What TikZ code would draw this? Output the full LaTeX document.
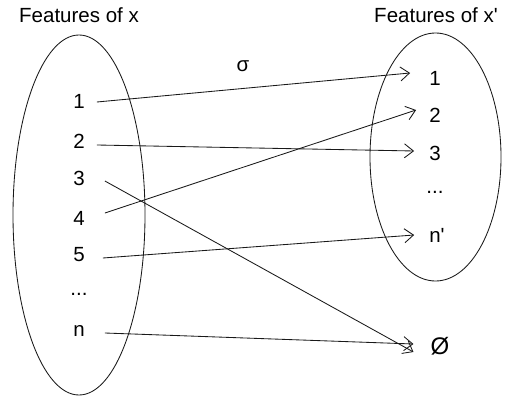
\documentclass[tikz,border=0pt]{standalone}
\usepackage{fontspec}
\setmainfont{Liberation Sans}[Ligatures=TeXOff]
\usetikzlibrary{arrows.meta}
\tikzset{
  lbl/.style={inner sep=0pt, font=\fontsize{20.5}{24}\selectfont, text=black},
  ttl/.style={inner sep=0pt, font=\fontsize{20.5}{24}\selectfont, text=black},
  conn/.style={draw=black!90, line width=0.85pt, -{Straight Barb[length=9pt,width=14pt]}},
  oval/.style={draw=black!90, line width=0.85pt}
}
\begin{document}
\begin{tikzpicture}[x=1pt,y=-1pt]
\useasboundingbox (0,0) rectangle (516,401);
% ellipses
\draw[oval] (79,215) ellipse [x radius=66pt, y radius=180pt];
\draw[oval] (435.5,157) ellipse [x radius=65.5pt, y radius=124pt];
% titles
\node[ttl] (tx) at (79,15) {Features of x};
\node[ttl] (txp) at (436,15) {Features of x'};
\node[lbl] (sigma) at (243,66) {σ};
% left labels
\node[lbl] (l1) at (79,101) {1};
\node[lbl] (l2) at (79,141) {2};
\node[lbl] (l3) at (79,178) {3};
\node[lbl] (l4) at (79,218) {4};
\node[lbl] (l5) at (79,255) {5};
\node[lbl] (ld) at (79,294) {...};
\node[lbl] (ln) at (79,331) {n};
% right labels
\node[lbl] (r1) at (435,78) {1};
\node[lbl] (r2) at (435,115) {2};
\node[lbl] (r3) at (435,153) {3};
\node[lbl] (rd) at (435,192) {...};
\node[lbl] (rn) at (437,235) {n'};
\node[lbl, font=\fontsize{24}{28}\selectfont] (re) at (440,346) {Ø};
% connectors
\draw[conn] ([xshift=12pt,yshift=-1pt]l1.east) -- ([xshift=-19pt,yshift=5pt]r1.west);
\draw[conn] ([xshift=12pt,yshift=-4pt]l2.east) -- ([xshift=-15pt,yshift=2pt]r3.west);
\draw[conn] ([xshift=20pt,yshift=-3pt]l3.east) -- ([xshift=-17pt,yshift=-6pt]re.west);
\draw[conn] ([xshift=20pt,yshift=5pt]l4.east) -- ([xshift=-13pt,yshift=5pt]r2.west);
\draw[conn] ([xshift=18pt,yshift=-3pt]l5.east) -- ([xshift=-15pt]rn.west);
\draw[conn] ([xshift=20pt,yshift=-2pt]ln.east) -- ([xshift=-17pt,yshift=2pt]re.west);
\end{tikzpicture}
\end{document}
